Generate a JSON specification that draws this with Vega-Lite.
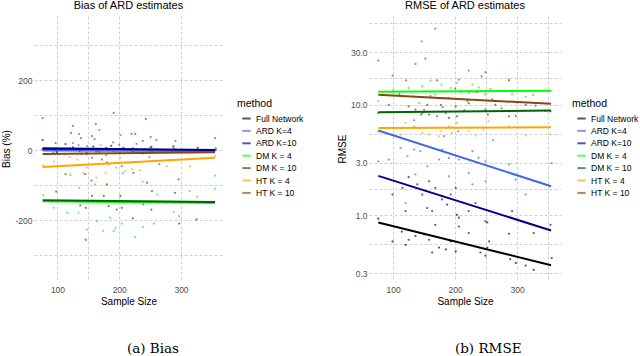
{
"$schema": "https://vega.github.io/schema/vega-lite/v6.json",
"background": "white",
"padding": {"left": 1, "top": 0, "right": 0, "bottom": 0},
"spacing": 33,
"config": {
  "view": {"stroke": null},
  "font": "Liberation Sans",
  "axis": {"grid": true, "gridColor": "#c4c4c4", "gridDash": [3, 2], "gridWidth": 0.8, "domain": false, "ticks": false,
           "labelColor": "#4d4d4d", "labelFontSize": 8.5, "labelFont": "Liberation Sans", "titleFont": "Liberation Sans",
           "titleFontSize": 10, "titleFontWeight": "normal", "titleColor": "black"},
  "legend": {"symbolType": "stroke", "symbolStrokeWidth": 2, "symbolSize": 70, "symbolOffset": 4, "labelOffset": 4, "labelFontSize": 8.5, "labelFont": "Liberation Sans",
             "titleFontSize": 10.5, "titleFontWeight": "normal", "titleFont": "Liberation Sans", "titlePadding": 4, "labelColor": "black", "titleColor": "black"}
},
"datasets": {
  "biasPts": [
{"m":"Full Network","n":76,"v":3},{"m":"Full Network","n":98,"v":-2},{"m":"Full Network","n":120,"v":4},{"m":"Full Network","n":136,"v":-3},{"m":"Full Network","n":150,"v":2},{"m":"Full Network","n":163,"v":-4},{"m":"Full Network","n":174,"v":3},{"m":"Full Network","n":190,"v":-2},{"m":"Full Network","n":206,"v":5},{"m":"Full Network","n":222,"v":-3},{"m":"Full Network","n":241,"v":2},{"m":"Full Network","n":252,"v":-4},{"m":"Full Network","n":289,"v":3},{"m":"Full Network","n":314,"v":-2},{"m":"Full Network","n":356,"v":1},
{"m":"ARD K=4","n":168,"v":57},{"m":"ARD K=4","n":135,"v":46},{"m":"ARD K=4","n":160,"v":31},{"m":"ARD K=4","n":202,"v":43},{"m":"ARD K=4","n":148,"v":11},{"m":"ARD K=4","n":156,"v":-22},{"m":"ARD K=4","n":191,"v":2},{"m":"ARD K=4","n":207,"v":7},{"m":"ARD K=4","n":146,"v":-257},{"m":"ARD K=4","n":112,"v":-12},{"m":"ARD K=4","n":134,"v":14},{"m":"ARD K=4","n":93,"v":-8},{"m":"ARD K=4","n":179,"v":-15},{"m":"ARD K=4","n":228,"v":18},{"m":"ARD K=4","n":249,"v":-20},{"m":"ARD K=4","n":287,"v":9},{"m":"ARD K=4","n":314,"v":-6},{"m":"ARD K=4","n":356,"v":5},{"m":"ARD K=4","n":190,"v":22},{"m":"ARD K=4","n":238,"v":-10},{"m":"ARD K=4","n":125,"v":20},
{"m":"ARD K=10","n":76,"v":29},{"m":"ARD K=10","n":113,"v":17},{"m":"ARD K=10","n":99,"v":-6},{"m":"ARD K=10","n":125,"v":8},{"m":"ARD K=10","n":147,"v":-8},{"m":"ARD K=10","n":158,"v":10},{"m":"ARD K=10","n":168,"v":-5},{"m":"ARD K=10","n":179,"v":6},{"m":"ARD K=10","n":201,"v":-9},{"m":"ARD K=10","n":222,"v":5},{"m":"ARD K=10","n":249,"v":-7},{"m":"ARD K=10","n":252,"v":9},{"m":"ARD K=10","n":292,"v":-4},{"m":"ARD K=10","n":327,"v":6},{"m":"ARD K=10","n":354,"v":-3},{"m":"ARD K=10","n":187,"v":12},{"m":"ARD K=10","n":139,"v":-10},{"m":"ARD K=10","n":206,"v":3},
{"m":"DM K = 4","n":77,"v":-129},{"m":"DM K = 4","n":94,"v":-165},{"m":"DM K = 4","n":121,"v":-71},{"m":"DM K = 4","n":135,"v":-108},{"m":"DM K = 4","n":134,"v":-179},{"m":"DM K = 4","n":161,"v":-98},{"m":"DM K = 4","n":164,"v":-203},{"m":"DM K = 4","n":174,"v":-231},{"m":"DM K = 4","n":148,"v":-227},{"m":"DM K = 4","n":145,"v":-255},{"m":"DM K = 4","n":191,"v":-231},{"m":"DM K = 4","n":194,"v":-222},{"m":"DM K = 4","n":195,"v":-50},{"m":"DM K = 4","n":204,"v":-210},{"m":"DM K = 4","n":206,"v":-66},{"m":"DM K = 4","n":226,"v":-249},{"m":"DM K = 4","n":239,"v":-220},{"m":"DM K = 4","n":238,"v":-90},{"m":"DM K = 4","n":256,"v":-210},{"m":"DM K = 4","n":262,"v":-127},{"m":"DM K = 4","n":288,"v":-177},{"m":"DM K = 4","n":297,"v":-189},{"m":"DM K = 4","n":314,"v":-117},{"m":"DM K = 4","n":326,"v":-133},{"m":"DM K = 4","n":355,"v":-73},{"m":"DM K = 4","n":355,"v":-110},{"m":"DM K = 4","n":185,"v":-193},{"m":"DM K = 4","n":116,"v":-179},
{"m":"DM K = 10","n":98,"v":-119},{"m":"DM K = 10","n":137,"v":-158},{"m":"DM K = 10","n":146,"v":-165},{"m":"DM K = 10","n":156,"v":-131},{"m":"DM K = 10","n":175,"v":-131},{"m":"DM K = 10","n":180,"v":-98},{"m":"DM K = 10","n":183,"v":-160},{"m":"DM K = 10","n":204,"v":-165},{"m":"DM K = 10","n":222,"v":-195},{"m":"DM K = 10","n":239,"v":-155},{"m":"DM K = 10","n":252,"v":-170},{"m":"DM K = 10","n":253,"v":-117},{"m":"DM K = 10","n":290,"v":-122},{"m":"DM K = 10","n":297,"v":-210},{"m":"DM K = 10","n":325,"v":-198},{"m":"DM K = 10","n":245,"v":-93},{"m":"DM K = 10","n":155,"v":-87},{"m":"DM K = 10","n":196,"v":-170},{"m":"DM K = 10","n":170,"v":-146},{"m":"DM K = 10","n":202,"v":-131},
{"m":"HT K = 4","n":77,"v":-43},{"m":"HT K = 4","n":94,"v":-33},{"m":"HT K = 4","n":142,"v":-65},{"m":"HT K = 4","n":148,"v":-50},{"m":"HT K = 4","n":170,"v":14},{"m":"HT K = 4","n":183,"v":-41},{"m":"HT K = 4","n":178,"v":-65},{"m":"HT K = 4","n":202,"v":-22},{"m":"HT K = 4","n":221,"v":-55},{"m":"HT K = 4","n":234,"v":-58},{"m":"HT K = 4","n":277,"v":-46},{"m":"HT K = 4","n":315,"v":-46},{"m":"HT K = 4","n":355,"v":-17},{"m":"HT K = 4","n":196,"v":-3},{"m":"HT K = 4","n":163,"v":-79},{"m":"HT K = 4","n":132,"v":-27},{"m":"HT K = 4","n":253,"v":-31},{"m":"HT K = 4","n":160,"v":-10},{"m":"HT K = 4","n":120,"v":-20},{"m":"HT K = 4","n":210,"v":-60},
{"m":"HT K = 10","n":76,"v":91},{"m":"HT K = 10","n":125,"v":69},{"m":"HT K = 10","n":122,"v":49},{"m":"HT K = 10","n":191,"v":106},{"m":"HT K = 10","n":162,"v":74},{"m":"HT K = 10","n":243,"v":89},{"m":"HT K = 10","n":220,"v":46},{"m":"HT K = 10","n":226,"v":46},{"m":"HT K = 10","n":251,"v":37},{"m":"HT K = 10","n":260,"v":29},{"m":"HT K = 10","n":238,"v":26},{"m":"HT K = 10","n":291,"v":26},{"m":"HT K = 10","n":355,"v":34},{"m":"HT K = 10","n":97,"v":20},{"m":"HT K = 10","n":138,"v":34},{"m":"HT K = 10","n":156,"v":40},{"m":"HT K = 10","n":113,"v":-69},{"m":"HT K = 10","n":148,"v":-12},{"m":"HT K = 10","n":172,"v":-27},{"m":"HT K = 10","n":223,"v":-65},{"m":"HT K = 10","n":296,"v":-84},{"m":"HT K = 10","n":145,"v":-69},{"m":"HT K = 10","n":204,"v":-46},{"m":"HT K = 10","n":250,"v":7},{"m":"HT K = 10","n":288,"v":11},{"m":"HT K = 10","n":180,"v":-35},{"m":"HT K = 10","n":265,"v":-40},{"m":"HT K = 10","n":200,"v":15}
  ],
  "biasLines": [
{"m":"Full Network","n":76,"v":2},{"m":"Full Network","n":355,"v":-1},
{"m":"ARD K=4","n":76,"v":-1},{"m":"ARD K=4","n":355,"v":-3},
{"m":"ARD K=10","n":76,"v":5},{"m":"ARD K=10","n":355,"v":0},
{"m":"DM K = 4","n":76,"v":-146},{"m":"DM K = 4","n":355,"v":-151},
{"m":"DM K = 10","n":76,"v":-143},{"m":"DM K = 10","n":355,"v":-148},
{"m":"HT K = 4","n":76,"v":-48},{"m":"HT K = 4","n":355,"v":-22},
{"m":"HT K = 10","n":76,"v":-11},{"m":"HT K = 10","n":355,"v":-6}
  ],
  "rmsePts": [
{"m":"Full Network","n":76,"v":0.93},{"m":"Full Network","n":114,"v":0.71},{"m":"Full Network","n":99,"v":0.58},{"m":"Full Network","n":120,"v":0.54},{"m":"Full Network","n":136,"v":0.65},{"m":"Full Network","n":150,"v":0.67},{"m":"Full Network","n":158,"v":0.6},{"m":"Full Network","n":163,"v":0.46},{"m":"Full Network","n":174,"v":0.51},{"m":"Full Network","n":185,"v":0.49},{"m":"Full Network","n":201,"v":0.47},{"m":"Full Network","n":193,"v":0.58},{"m":"Full Network","n":206,"v":0.79},{"m":"Full Network","n":222,"v":0.69},{"m":"Full Network","n":241,"v":0.46},{"m":"Full Network","n":252,"v":0.51},{"m":"Full Network","n":249,"v":0.43},{"m":"Full Network","n":289,"v":0.4},{"m":"Full Network","n":298,"v":0.37},{"m":"Full Network","n":314,"v":0.35},{"m":"Full Network","n":327,"v":0.32},{"m":"Full Network","n":356,"v":0.41},{"m":"Full Network","n":287,"v":0.68},{"m":"Full Network","n":168,"v":0.82},{"m":"Full Network","n":203,"v":1.01},{"m":"Full Network","n":125,"v":0.6},
{"m":"ARD K=4","n":112,"v":4.07},{"m":"ARD K=4","n":134,"v":3.93},{"m":"ARD K=4","n":93,"v":3.19},{"m":"ARD K=4","n":76,"v":3.08},{"m":"ARD K=4","n":144,"v":3.8},{"m":"ARD K=4","n":179,"v":3.93},{"m":"ARD K=4","n":190,"v":3.3},{"m":"ARD K=4","n":206,"v":3.19},{"m":"ARD K=4","n":228,"v":3.8},{"m":"ARD K=4","n":238,"v":3.3},{"m":"ARD K=4","n":249,"v":3.08},{"m":"ARD K=4","n":287,"v":2.88},{"m":"ARD K=4","n":298,"v":2.1},{"m":"ARD K=4","n":314,"v":1.54},{"m":"ARD K=4","n":356,"v":2.97},{"m":"ARD K=4","n":222,"v":2.41},{"m":"ARD K=4","n":249,"v":2.03},{"m":"ARD K=4","n":190,"v":2.25},{"m":"ARD K=4","n":136,"v":2.34},{"m":"ARD K=4","n":120,"v":1.29},{"m":"ARD K=4","n":155,"v":2.77},{"m":"ARD K=4","n":123,"v":3.42},{"m":"ARD K=4","n":174,"v":3.19},{"m":"ARD K=4","n":228,"v":1.9},{"m":"ARD K=4","n":168,"v":49},{"m":"ARD K=4","n":146,"v":37.5},{"m":"ARD K=4","n":222,"v":20.4},{"m":"ARD K=4","n":134,"v":7.24},{"m":"ARD K=4","n":182,"v":5.19},{"m":"ARD K=4","n":261,"v":4.77},{"m":"ARD K=4","n":205,"v":5.75},
{"m":"ARD K=10","n":99,"v":1.54},{"m":"ARD K=10","n":120,"v":1.09},{"m":"ARD K=10","n":158,"v":2.03},{"m":"ARD K=10","n":168,"v":1.77},{"m":"ARD K=10","n":147,"v":1.54},{"m":"ARD K=10","n":179,"v":1.39},{"m":"ARD K=10","n":201,"v":1.77},{"m":"ARD K=10","n":163,"v":1.09},{"m":"ARD K=10","n":222,"v":1.09},{"m":"ARD K=10","n":249,"v":0.88},{"m":"ARD K=10","n":252,"v":0.86},{"m":"ARD K=10","n":292,"v":1.09},{"m":"ARD K=10","n":327,"v":0.69},{"m":"ARD K=10","n":354,"v":0.82},{"m":"ARD K=10","n":125,"v":2.21},{"m":"ARD K=10","n":139,"v":1.9},{"m":"ARD K=10","n":155,"v":1.16},{"m":"ARD K=10","n":187,"v":1.25},{"m":"ARD K=10","n":206,"v":0.95},{"m":"ARD K=10","n":193,"v":1.54},{"m":"ARD K=10","n":233,"v":1.29},{"m":"ARD K=10","n":115,"v":1.77},{"m":"ARD K=10","n":255,"v":0.58},
{"m":"DM K = 4","n":147,"v":14.7},{"m":"DM K = 4","n":178,"v":15.2},{"m":"DM K = 4","n":193,"v":14.2},{"m":"DM K = 4","n":203,"v":15.8},{"m":"DM K = 4","n":228,"v":15.2},{"m":"DM K = 4","n":238,"v":14.4},{"m":"DM K = 4","n":249,"v":12.4},{"m":"DM K = 4","n":292,"v":12.4},{"m":"DM K = 4","n":314,"v":11.8},{"m":"DM K = 4","n":326,"v":12.2},{"m":"DM K = 4","n":354,"v":13.3},{"m":"DM K = 4","n":76,"v":10.8},{"m":"DM K = 4","n":125,"v":14.2},{"m":"DM K = 4","n":168,"v":12.4},{"m":"DM K = 4","n":287,"v":16.9},{"m":"DM K = 4","n":222,"v":12.8},{"m":"DM K = 4","n":257,"v":13.9},{"m":"DM K = 4","n":142,"v":10.4},{"m":"DM K = 4","n":160,"v":16.5},{"m":"DM K = 4","n":185,"v":11.5},{"m":"DM K = 4","n":210,"v":13},{"m":"DM K = 4","n":100,"v":13.5},
{"m":"DM K = 10","n":125,"v":9.69},{"m":"DM K = 10","n":136,"v":9.05},{"m":"DM K = 10","n":147,"v":8.43},{"m":"DM K = 10","n":158,"v":8.15},{"m":"DM K = 10","n":171,"v":7.87},{"m":"DM K = 10","n":185,"v":8.43},{"m":"DM K = 10","n":201,"v":9.69},{"m":"DM K = 10","n":203,"v":7.87},{"m":"DM K = 10","n":249,"v":9.05},{"m":"DM K = 10","n":253,"v":8.15},{"m":"DM K = 10","n":287,"v":7.87},{"m":"DM K = 10","n":298,"v":7.95},{"m":"DM K = 10","n":314,"v":10},{"m":"DM K = 10","n":354,"v":8.73},{"m":"DM K = 10","n":76,"v":8.43},{"m":"DM K = 10","n":155,"v":10},{"m":"DM K = 10","n":177,"v":10},{"m":"DM K = 10","n":222,"v":10.3},{"m":"DM K = 10","n":93,"v":10},{"m":"DM K = 10","n":265,"v":10},{"m":"DM K = 10","n":346,"v":8.8},{"m":"DM K = 10","n":145,"v":8.15},{"m":"DM K = 10","n":190,"v":7.6},{"m":"DM K = 10","n":215,"v":8.9},
{"m":"HT K = 4","n":76,"v":5.64},{"m":"HT K = 4","n":112,"v":5.37},{"m":"HT K = 4","n":147,"v":5.56},{"m":"HT K = 4","n":120,"v":6.84},{"m":"HT K = 4","n":158,"v":5.37},{"m":"HT K = 4","n":177,"v":5.75},{"m":"HT K = 4","n":190,"v":6.38},{"m":"HT K = 4","n":203,"v":6.84},{"m":"HT K = 4","n":222,"v":5.75},{"m":"HT K = 4","n":246,"v":5.97},{"m":"HT K = 4","n":254,"v":7.1},{"m":"HT K = 4","n":287,"v":6.38},{"m":"HT K = 4","n":314,"v":5.26},{"m":"HT K = 4","n":354,"v":5.37},{"m":"HT K = 4","n":174,"v":5.19},{"m":"HT K = 4","n":134,"v":6.38},{"m":"HT K = 4","n":195,"v":5.56},{"m":"HT K = 4","n":233,"v":5.26},
{"m":"HT K = 10","n":76,"v":25.1},{"m":"HT K = 10","n":152,"v":26.2},{"m":"HT K = 10","n":136,"v":23.4},{"m":"HT K = 10","n":99,"v":18.4},{"m":"HT K = 10","n":121,"v":16.6},{"m":"HT K = 10","n":171,"v":16.6},{"m":"HT K = 10","n":206,"v":16.9},{"m":"HT K = 10","n":243,"v":18.1},{"m":"HT K = 10","n":287,"v":16.6},{"m":"HT K = 10","n":249,"v":19.7},{"m":"HT K = 10","n":160,"v":12},{"m":"HT K = 10","n":190,"v":11.5},{"m":"HT K = 10","n":220,"v":10.8},{"m":"HT K = 10","n":180,"v":9.5},{"m":"HT K = 10","n":150,"v":9},{"m":"HT K = 10","n":260,"v":11.2},{"m":"HT K = 10","n":300,"v":10.5},{"m":"HT K = 10","n":330,"v":9.8},{"m":"HT K = 10","n":110,"v":12.5},{"m":"HT K = 10","n":200,"v":14},{"m":"HT K = 10","n":235,"v":13},{"m":"HT K = 10","n":275,"v":9.3}
  ],
  "rmseLines": [
{"m":"Full Network","n":76,"v":0.859},{"m":"Full Network","n":355,"v":0.353},
{"m":"ARD K=4","n":76,"v":5.84},{"m":"ARD K=4","n":355,"v":1.83},
{"m":"ARD K=10","n":76,"v":2.27},{"m":"ARD K=10","n":355,"v":0.727},
{"m":"DM K = 4","n":76,"v":13.1},{"m":"DM K = 4","n":355,"v":13.4},
{"m":"DM K = 10","n":76,"v":8.55},{"m":"DM K = 10","n":355,"v":8.86},
{"m":"HT K = 4","n":76,"v":6.17},{"m":"HT K = 4","n":355,"v":6.26},
{"m":"HT K = 10","n":76,"v":12.3},{"m":"HT K = 10","n":355,"v":10.2}
  ]
},
"hconcat": [
  {
    "title": {"text": "(a) Bias", "orient": "bottom", "font": "DejaVu Serif", "fontSize": 13.5, "fontWeight": "normal", "color": "black", "anchor": "middle", "offset": 35},
    "vconcat": [
      {
        "width": 189, "height": 265,
        "title": {"text": "Bias of ARD estimates", "fontSize": 11, "fontWeight": "normal", "anchor": "middle", "offset": 5, "color": "black", "font": "Liberation Sans"},
        "encoding": {
          "x": {"field": "n", "type": "quantitative", "title": "Sample Size",
                "scale": {"domain": [62, 368], "nice": false, "zero": false},
                "axis": {"values": [100, 150, 200, 300], "labelExpr": "datum.value % 100 === 0 ? datum.label : ''", "labelPadding": 4, "titlePadding": 3}},
          "y": {"field": "v", "type": "quantitative", "title": "Bias (%)",
                "scale": {"domain": [-374, 383], "nice": false, "zero": false},
                "axis": {"values": [-300, -200, -100, 0, 100, 200, 300], "labelExpr": "datum.value % 200 === 0 ? ('' + datum.value) : ''", "labelPadding": 2, "titlePadding": 3}},
          "color": {"field": "m", "type": "nominal",
                    "scale": {"domain": ["Full Network", "ARD K=4", "ARD K=10", "DM K = 4", "DM K = 10", "HT K = 4", "HT K = 10"],
                              "range": ["#000000", "#4169E1", "#00008B", "#00FF00", "#006400", "#FFA500", "#8B4513"]},
                    "legend": {"title": "method", "orient": "none", "legendX": 203, "legendY": 83, "clipHeight": 10, "rowPadding": 2.4}}
        },
        "layer": [
          {"data": {"name": "biasPts"}, "mark": {"type": "circle", "size": 5, "opacity": 0.65}},
          {"data": {"name": "biasLines"}, "mark": {"type": "line", "strokeWidth": 2}}
        ]
      }
    ]
  },
  {
    "title": {"text": "(b) RMSE", "orient": "bottom", "font": "DejaVu Serif", "fontSize": 13.5, "fontWeight": "normal", "color": "black", "anchor": "middle", "offset": 35},
    "vconcat": [
      {
        "width": 192, "height": 265,
        "title": {"text": "RMSE of ARD estimates", "fontSize": 11, "fontWeight": "normal", "anchor": "middle", "offset": 5, "color": "black", "font": "Liberation Sans"},
        "encoding": {
          "x": {"field": "n", "type": "quantitative", "title": "Sample Size",
                "scale": {"domain": [61, 371], "nice": false, "zero": false},
                "axis": {"values": [100, 200, 250, 300, 350], "labelExpr": "datum.value % 100 === 0 ? datum.label : ''", "labelPadding": 4, "titlePadding": 3}},
          "y": {"field": "v", "type": "quantitative", "title": "RMSE",
                "scale": {"type": "log", "domain": [0.254, 63.6], "nice": false, "zero": false},
                "axis": {"values": [0.3, 0.5477, 1, 1.7321, 3, 5.4772, 10, 17.3205, 30, 54.772], "labelExpr": "(datum.value == 0.3 || datum.value == 1 || datum.value == 3 || datum.value == 10 || datum.value == 30) ? format(datum.value, '.1f') : ''", "labelPadding": 2, "titlePadding": 3}},
          "color": {"field": "m", "type": "nominal",
                    "scale": {"domain": ["Full Network", "ARD K=4", "ARD K=10", "DM K = 4", "DM K = 10", "HT K = 4", "HT K = 10"],
                              "range": ["#000000", "#4169E1", "#00008B", "#00FF00", "#006400", "#FFA500", "#8B4513"]},
                    "legend": {"title": "method", "orient": "none", "legendX": 203, "legendY": 83, "clipHeight": 10, "rowPadding": 2.4}}
        },
        "layer": [
          {"data": {"name": "rmsePts"}, "mark": {"type": "circle", "size": 5, "opacity": 0.65}},
          {"data": {"name": "rmseLines"}, "mark": {"type": "line", "strokeWidth": 2}}
        ]
      }
    ]
  }
],
"resolve": {"scale": {"color": "independent", "x": "independent", "y": "independent"}}
}
